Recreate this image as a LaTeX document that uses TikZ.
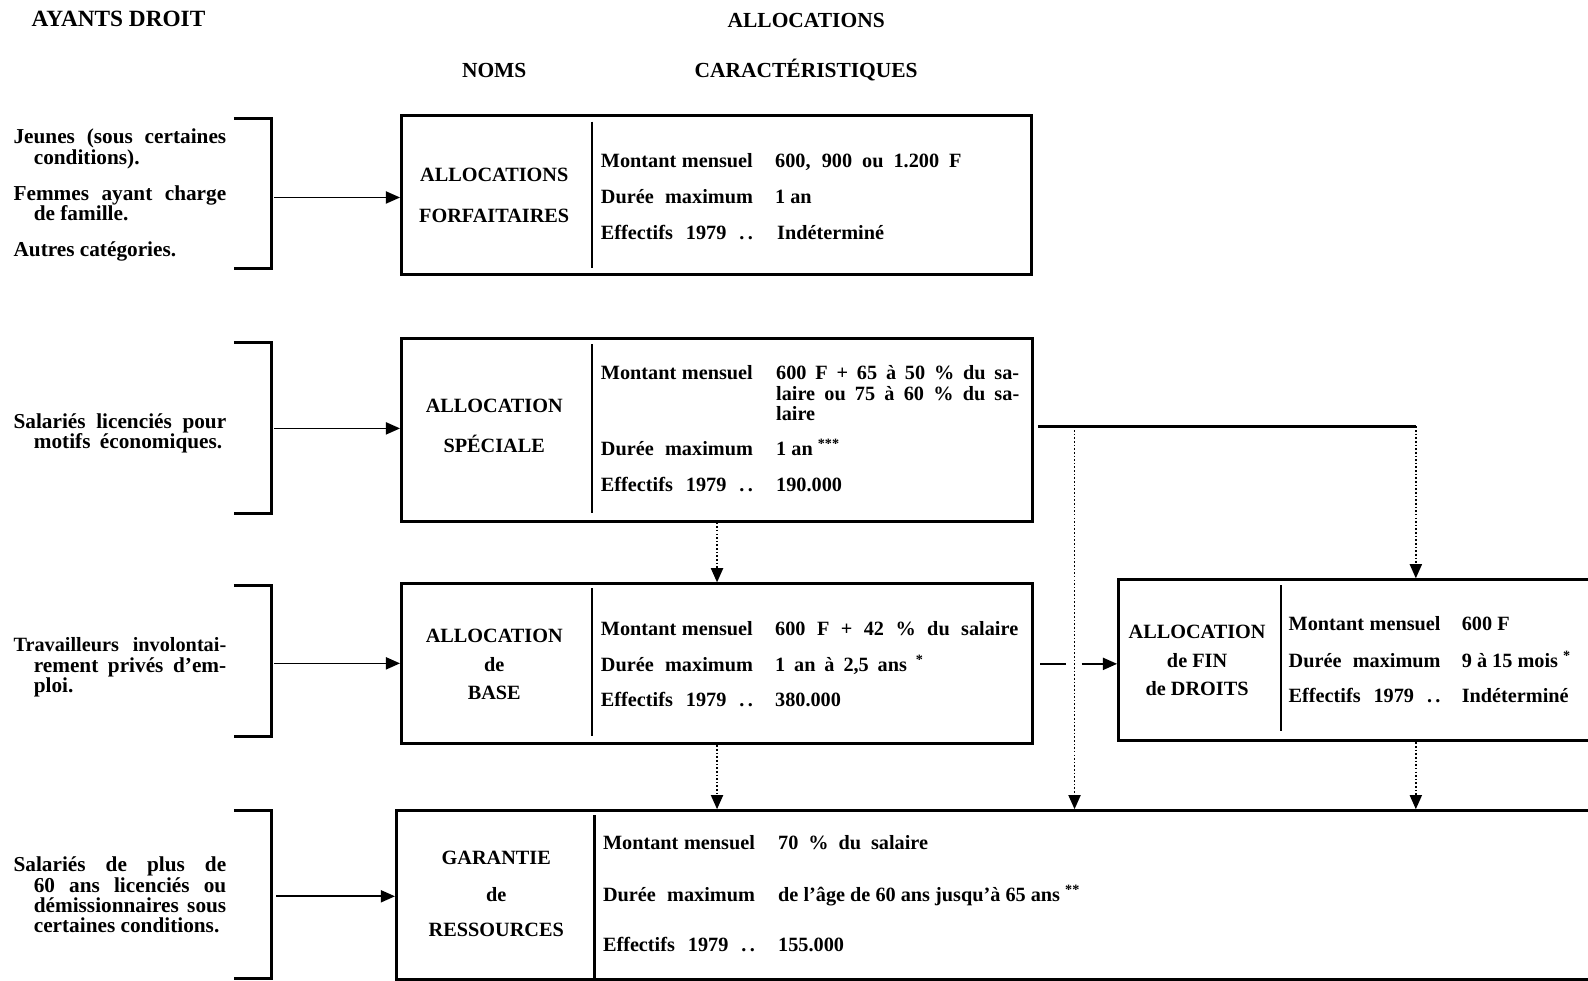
\documentclass[tikz,border=0pt]{standalone}
\usepackage{fontspec}
\setmainfont{Liberation Serif}
\usetikzlibrary{arrows.meta,calc}
\tikzset{
  box/.style={draw, line width=1.5pt, inner sep=0pt, anchor=north west},
  txt/.style={inner sep=0pt, font=\fontsize{10}{12}\selectfont\bfseries},
  tl/.style={txt, anchor=base west},
  tc/.style={txt, anchor=base},
  hd/.style={tc, font=\fontsize{10.6}{12}\selectfont\bfseries},
  lt/.style={tl, font=\fontsize{10.5}{12}\selectfont\bfseries},
  conn/.style={line width=0.8pt, -{Triangle[length=7pt,width=6pt]}},
  dconn/.style={conn, densely dotted},
  brk/.style={line width=1.4pt},
  divl/.style={line width=1pt}
}
\newcommand{\lab}[1]{\makebox[75pt][s]{#1}}
\begin{document}
\begin{tikzpicture}[x=0.5pt,y=-0.5pt]
\path[use as bounding box, clip] (0,0) rectangle (1568,968);

% headers
\node[hd, font=\fontsize{11.5}{12}\selectfont\bfseries] (hA) at (117,26) {AYANTS DROIT};
\node[hd] (hB) at (796,27) {ALLOCATIONS};
\node[hd] (hC) at (488,77) {NOMS};
\node[hd] (hD) at (796,77) {CARACTÉRISTIQUES};

% left texts
\node[lt] (g1a) at (13,142) {\makebox[105pt][s]{Jeunes (sous certaines}};
\node[lt] (g1b) at (33,162) {conditions).};
\node[lt] (g1c) at (13,198) {\makebox[105pt][s]{Femmes ayant charge}};
\node[lt] (g1d) at (33,218) {de famille.};
\node[lt] (g1e) at (13,253) {Autres catégories.};

\node[lt] (g2a) at (13,423) {\makebox[105pt][s]{Salariés licenciés pour}};
\node[lt] (g2b) at (33,443) {\makebox[93pt][s]{motifs économiques.}};

\node[lt, font=\fontsize{10}{12}\selectfont\bfseries] (g3a) at (13,643) {\makebox[105pt][s]{Travailleurs involontai-}};
\node[lt] (g3b) at (33,664) {\makebox[95pt][s]{rement privés d’em-}};
\node[lt] (g3c) at (33,684) {ploi.};

\node[lt] (g4a) at (13,861) {\makebox[105pt][s]{Salariés de plus de}};
\node[lt] (g4b) at (33,881) {\makebox[95pt][s]{60 ans licenciés ou}};
\node[lt] (g4c) at (33,901) {\makebox[95pt][s]{démissionnaires sous}};
\node[lt] (g4d) at (33,921) {certaines conditions.};

% brackets
\draw[brk] (231,117) -- (268,117) -- (268,265) -- (231,265);
\draw[brk] (231,338) -- (268,338) -- (268,507) -- (231,507);
\draw[brk] (231,578) -- (268,578) -- (268,727) -- (231,727);
\draw[brk] (231,800) -- (268,800) -- (268,966) -- (231,966);
\coordinate (b1) at (271,195);
\coordinate (b2) at (271,423);
\coordinate (b3) at (271,655);
\coordinate (b4) at (273,885);

% boxes
\node[box, minimum width=311pt, minimum height=78.5pt] (A1) at (395,113) {};
\node[box, minimum width=311.5pt, minimum height=90pt] (A2) at (395,333) {};
\node[box, minimum width=311.5pt, minimum height=79pt] (A3) at (395,575) {};
\node[box, minimum width=248.5pt, minimum height=79.5pt] (A4) at (1103,571) {};
\node[box, minimum width=605pt, minimum height=83.5pt] (A5) at (390,799) {};

% dividers
\draw[divl] (585,120) -- (585,265);
\draw[divl] (585,340) -- (585,507);
\draw[divl] (585,581) -- (585,727);
\draw[divl] (1265,578) -- (1265,722);
\draw[divl] (587,805) -- (587,975);

% box 1
\node[tc] (n1a) at (488,179) {ALLOCATIONS};
\node[tc] (n1b) at (488,220) {FORFAITAIRES};
\node[tl] (l1a) at (593,165) {\lab{Montant mensuel}};
\node[tl] (l1b) at (593,201) {\lab{Durée maximum}};
\node[tl] (l1c) at (593,236) {\lab{Effectifs 1979 .\,.}};
\node[tl] (v1a) at (765,165) {\makebox[92pt][s]{600, 900 ou 1.200 F}};
\node[tl] (v1b) at (765,201) {1 an};
\node[tl] (v1c) at (767,236) {Indéterminé};

% box 2
\node[tc] (n2a) at (488,407) {ALLOCATION};
\node[tc] (n2b) at (488,447) {SPÉCIALE};
\node[tl] (l2a) at (593,375) {\lab{Montant mensuel}};
\node[tl] (l2b) at (593,450) {\lab{Durée maximum}};
\node[tl] (l2c) at (593,485) {\lab{Effectifs 1979 .\,.}};
\node[tl] (v2a) at (766,375) {\makebox[120pt][s]{600 F + 65 à 50 \% du sa-}};
\node[tl] (v2b) at (766,395) {\makebox[120pt][s]{laire ou 75 à 60 \% du sa-}};
\node[tl] (v2c) at (766,415) {laire};
\node[tl] (v2d) at (766,450) {1 an \textsuperscript{***}};
\node[tl] (v2e) at (766,485) {190.000};

% box 3
\node[tc] (n3a) at (488,634) {ALLOCATION};
\node[tc] (n3b) at (488,663) {de};
\node[tc] (n3c) at (488,691) {BASE};
\node[tl] (l3a) at (593,627) {\lab{Montant mensuel}};
\node[tl] (l3b) at (593,663) {\lab{Durée maximum}};
\node[tl] (l3c) at (593,698) {\lab{Effectifs 1979 .\,.}};
\node[tl] (v3a) at (765,627) {\makebox[120pt][s]{600 F + 42 \% du salaire}};
\node[tl] (v3b) at (765,663) {\makebox[73.5pt][s]{1 an à 2,5 ans \textsuperscript{*}}};
\node[tl] (v3c) at (765,698) {380.000};

% box 4
\node[tc] (n4a) at (1182,630) {ALLOCATION};
\node[tc] (n4b) at (1182,659) {de FIN};
\node[tc] (n4c) at (1182,687) {de DROITS};
\node[tl] (l4a) at (1272,623) {\lab{Montant mensuel}};
\node[tl] (l4b) at (1272,659) {\lab{Durée maximum}};
\node[tl] (l4c) at (1272,694) {\lab{Effectifs 1979 .\,.}};
\node[tl] (v4a) at (1443,623) {600 F};
\node[tl] (v4b) at (1443,659) {9 à 15 mois \textsuperscript{*}};
\node[tl] (v4c) at (1443,694) {Indéterminé};

% box 5
\node[tc] (n5a) at (490,854) {GARANTIE};
\node[tc] (n5b) at (490,890) {de};
\node[tc] (n5c) at (490,925) {RESSOURCES};
\node[tl] (l5a) at (595,839) {\lab{Montant mensuel}};
\node[tl] (l5b) at (595,890) {\lab{Durée maximum}};
\node[tl] (l5c) at (595,940) {\lab{Effectifs 1979 .\,.}};
\node[tl] (v5a) at (768,839) {\makebox[74pt][s]{70 \% du salaire}};
\node[tl] (v5b) at (768,890) {de l’âge de 60 ans jusqu’à 65 ans \textsuperscript{**}};
\node[tl] (v5c) at (768,940) {155.000};

% connectors from groups
\draw[conn] (b1) -- (b1 -| A1.west);
\draw[conn] (b2) -- (b2 -| A2.west);
\draw[conn] (b3) -- (b3 -| A3.west);
\draw[conn] (b4) -- (b4 -| A5.west);

% connectors between boxes
\coordinate (j1) at (1061,421);
\coordinate (j2) at (1398,421);
\draw[line width=1.2pt] ($(A2.east |- j2)+(4,0)$) -- (j2);
\draw[dconn] (j2) -- (j2 |- A4.north);
\draw[dconn] (j1) -- (j1 |- A5.north);
\draw[dconn] (A2.south) -- (A3.north);
\draw[dconn] (A3.south) -- (A3.south |- A5.north);
\draw[dconn] (j2 |- A4.south) -- (j2 |- A5.north);
\draw[line width=0.8pt] ($(A3.east)+(6,0)$) -- ($(j1 |- A3.east)+(-8,0)$);
\draw[conn] ($(j1 |- A3.east)+(7,0)$) -- (A3.east -| A4.west);
\end{tikzpicture}
\end{document}
